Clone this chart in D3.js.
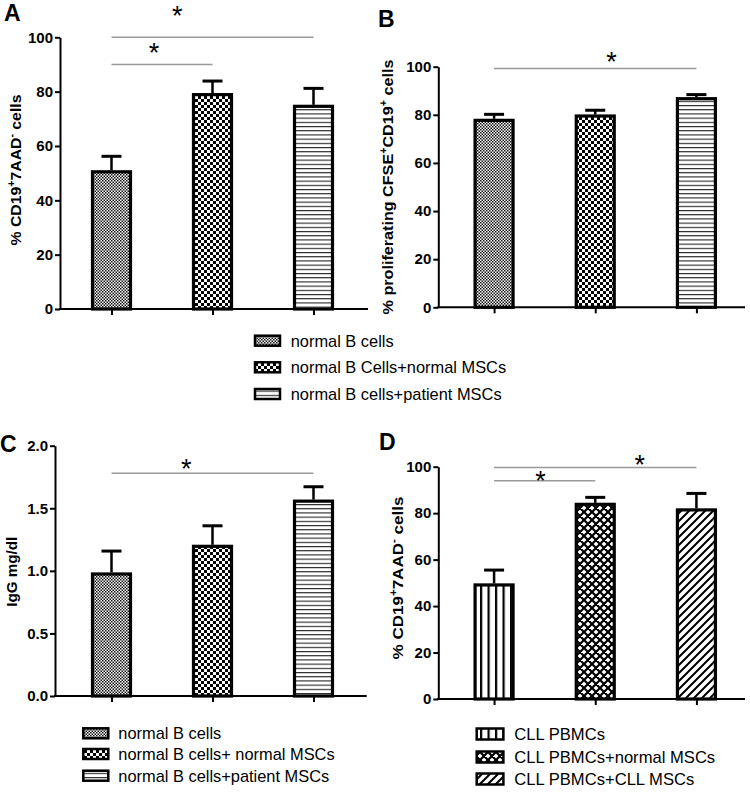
<!DOCTYPE html>
<html><head><meta charset="utf-8">
<script src="https://cdn.jsdelivr.net/npm/d3@7"></script>
<style>body{margin:0;background:#fff} svg{display:block} text{font-family:"Liberation Sans",Arial,sans-serif}</style>
</head><body><svg id="chart" width="750" height="792"></svg>
<script>
// ---------- data ----------
const groupsAB = ["normal B cells","normal B Cells+normal MSCs","normal B cells+patient MSCs"];
const groupsC  = ["normal B cells","normal B cells+ normal MSCs","normal B cells+patient MSCs"];
const groupsD  = ["CLL PBMCs","CLL PBMCs+normal MSCs","CLL PBMCs+CLL MSCs"];
const valuesA = [50.5, 78.9, 74.6];   const errorsA = [5.7, 5.0, 6.6];
const valuesB = [77.7, 79.5, 86.7];   const errorsB = [2.5, 2.4, 1.7];
const valuesC = [0.975, 1.196, 1.557]; const errorsC = [0.183, 0.164, 0.115];
const valuesD = [49.1, 83.8, 81.4];   const errorsD = [6.4, 3.0, 7.1];
const ticksPct = [0, 20, 40, 60, 80, 100];
const ticksIgG = [0, 0.5, 1.0, 1.5, 2.0];
const sigA = [{from:0,to:1,level:90,star:96.3,frac:0.42},{from:0,to:2,level:100,star:110,frac:0.325}];
const sigB = [{from:0,to:2,level:99.3,star:104.4,frac:0.58}];
const sigC = [{from:0,to:2,level:1.78,star:1.86,frac:0.37}];
const sigD = [{from:0,to:1,level:94,star:96.4,frac:0.46},{from:0,to:2,level:99.7,star:103.5,frac:0.72}];
const patternsAB = ["fine","coarse","hlines"];
const patternsD = ["vlines","cross","diag"];

const svg = d3.select("#chart");
const defs = svg.append("defs");
function pat(id, w, h, build){
  const p = defs.append("pattern").attr("id", id).attr("patternUnits","userSpaceOnUse").attr("width", w).attr("height", h);
  p.append("rect").attr("width", w).attr("height", h).attr("fill", "#fff");
  build(p);
}
pat("fine", 3, 3, p => { p.append("rect").attr("width",1.5).attr("height",1.5).attr("fill","#111");
                        p.append("rect").attr("x",1.5).attr("y",1.5).attr("width",1.5).attr("height",1.5).attr("fill","#111"); });
pat("coarse", 6, 6, p => { p.append("rect").attr("width",3).attr("height",3).attr("fill","#000");
                          p.append("rect").attr("x",3).attr("y",3).attr("width",3).attr("height",3).attr("fill","#000"); });
pat("hlines", 4, 4.2, p => { p.append("rect").attr("width",4).attr("height",1.1).attr("fill","#222"); });
pat("vlines", 7.5, 10, p => { p.append("rect").attr("width",2.2).attr("height",10).attr("fill","#000"); });
pat("cross", 8, 8, p => { p.append("path").attr("d","M-2,2 l4,-4 M0,8 l8,-8 M6,10 l4,-4 M-2,6 l4,4 M0,0 l8,8 M6,-2 l4,4").attr("stroke","#000").attr("stroke-width",2.2); });
pat("diag", 8, 8, p => { p.append("path").attr("d","M-2,2 l4,-4 M0,8 l8,-8 M6,10 l4,-4").attr("stroke","#000").attr("stroke-width",2); });

const panels = [
  {letter:"A", lx:4, ly:21, cats:groupsAB, values:valuesA, errors:errorsA, sig:sigA, fills:patternsAB, domain:[0,100], ticks:ticksPct, fmt:d3.format("d"),
   axisX:60, xEnd:368, yTop:37.3, yBot:309, xRange:[61,364],
   label:[["% CD19",0],["+",1],["7AAD",0],["-",1],[" cells",0]], labX:21, labY:170, labLen:151},
  {letter:"B", lx:378, ly:27, cats:groupsAB, values:valuesB, errors:errorsB, sig:sigB, fills:patternsAB, domain:[0,100], ticks:ticksPct, fmt:d3.format("d"),
   axisX:438.3, xEnd:745, yTop:66.7, yBot:307.3, xRange:[443.5,747],
   label:[["% proliferating CFSE",0],["+",1],["CD19",0],["+",1],[" cells",0]], labX:393, labY:187, labLen:255},
  {letter:"C", lx:0, ly:452, cats:groupsC, values:valuesC, errors:errorsC, sig:sigC, fills:patternsAB, domain:[0,2], ticks:ticksIgG, fmt:d3.format(".1f"),
   axisX:55, xEnd:366.7, yTop:445.7, yBot:696, xRange:[61,364],
   label:[["IgG mg/dl",0]], labX:17, labY:571.7, labLen:70},
  {letter:"D", lx:379, ly:450, cats:groupsD, values:valuesD, errors:errorsD, sig:sigD, fills:patternsD, domain:[0,100], ticks:ticksPct, fmt:d3.format("d"),
   axisX:438.3, xEnd:745, yTop:466.7, yBot:699, xRange:[443.5,747],
   label:[["% CD19",0],["+",1],["7AAD",0],["-",1],[" cells",0]], labX:403, labY:578, labLen:163}
];

panels.forEach(P => {
  const g = svg.append("g");
  const x = d3.scalePoint().domain(P.cats).range(P.xRange).padding(0.5);
  const y = d3.scaleLinear().domain(P.domain).range([P.yBot, P.yTop]);
  const bw = 38;

  g.selectAll("rect.bar").data(P.cats).join("rect").attr("class","bar")
    .attr("x", d => x(d) - bw/2).attr("width", bw)
    .attr("y", (d,i) => y(P.values[i])).attr("height", (d,i) => y(0) - y(P.values[i]))
    .attr("fill", (d,i) => `url(#${P.fills[i]})`).attr("stroke","#000").attr("stroke-width",3.2);
  const eb = g.selectAll("g.err").data(P.cats).join("g").attr("class","err");
  eb.append("line").attr("x1", d => x(d)).attr("x2", d => x(d))
    .attr("y1", (d,i) => y(P.values[i]) - 1.5).attr("y2", (d,i) => y(P.values[i] + P.errors[i]))
    .attr("stroke","#000").attr("stroke-width",2.5);
  eb.append("line").attr("x1", d => x(d) - 10).attr("x2", d => x(d) + 10)
    .attr("y1", (d,i) => y(P.values[i] + P.errors[i])).attr("y2", (d,i) => y(P.values[i] + P.errors[i]))
    .attr("stroke","#000").attr("stroke-width",3);

  const ya = g.append("g").attr("transform", `translate(${P.axisX},0)`)
    .call(d3.axisLeft(y).tickValues(P.ticks).tickFormat(P.fmt).tickSize(5).tickSizeOuter(0).tickPadding(2));
  ya.select(".domain").attr("stroke","#000").attr("stroke-width",2);
  ya.selectAll(".tick line").attr("stroke","#000").attr("stroke-width",2);
  ya.selectAll(".tick text").attr("font-size",15).attr("font-weight","bold").attr("fill","#000")
    .attr("font-family","'Liberation Sans',Arial,sans-serif");

  g.append("line").attr("x1", P.axisX - 1).attr("x2", P.xEnd).attr("y1", y(0)).attr("y2", y(0))
    .attr("stroke","#000").attr("stroke-width",2);
  const xa = g.append("g").attr("transform", `translate(0,${y(0)})`)
    .call(d3.axisBottom(x).tickSize(6).tickSizeOuter(0).tickFormat(""));
  xa.select(".domain").remove();
  xa.selectAll(".tick line").attr("stroke","#000").attr("stroke-width",2);

  P.sig.forEach(s => {
    const x1 = x(P.cats[s.from]), x2 = x(P.cats[s.to]);
    g.append("line").attr("x1", x1).attr("x2", x2).attr("y1", y(s.level)).attr("y2", y(s.level))
      .attr("stroke","#999").attr("stroke-width",1.5);
    g.append("text").attr("x", x1 + (x2 - x1) * s.frac).attr("y", y(s.star) + 15)
      .attr("text-anchor","middle").attr("font-size",27).attr("fill","#000").text("*");
  });

  const t = g.append("text").attr("font-size",15).attr("font-weight","bold").attr("text-anchor","middle")
    .attr("transform", `translate(${P.labX},${P.labY}) rotate(-90)`);
  P.label.forEach(([s, sup], i) => {
    const ts = t.append("tspan").text(s);
    if (sup) ts.attr("font-size",10).attr("dy",-6);
    else if (i > 0 && P.label[i-1][1]) ts.attr("dy",6);
  });
  const w = t.node().getComputedTextLength();
  t.attr("transform", `translate(${P.labX},${P.labY}) rotate(-90) scale(${P.labLen / w},1)`);

  svg.append("text").attr("x", P.lx).attr("y", P.ly).attr("font-size",23).attr("font-weight","bold").text(P.letter);
});

const legends = [
  {items:groupsAB, fills:patternsAB, sx:255, sw:25, sh:10, tx:290.7, rows:[340.7,367.3,394], fs:16.4},
  {items:groupsC, fills:patternsAB, sx:83.3, sw:25, sh:10, tx:118.3, rows:[733.3,754,775.7], fs:16.4},
  {items:groupsD, fills:patternsD, sx:476.7, sw:26.7, sh:11, tx:514.3, rows:[734,757,779], fs:16.6}
];
legends.forEach(L => {
  const g = svg.append("g");
  const rows = d3.scaleOrdinal().domain(L.items).range(L.rows);
  const it = g.selectAll("g").data(L.items).join("g");
  it.append("rect").attr("x", L.sx).attr("y", d => rows(d) - L.sh/2).attr("width", L.sw).attr("height", L.sh)
    .attr("fill", (d,i) => `url(#${L.fills[i]})`).attr("stroke","#000").attr("stroke-width",2.5);
  it.append("text").attr("x", L.tx).attr("y", d => rows(d) + 6).attr("font-size",L.fs).attr("fill","#000").text(d => d);
});
</script></body></html>
